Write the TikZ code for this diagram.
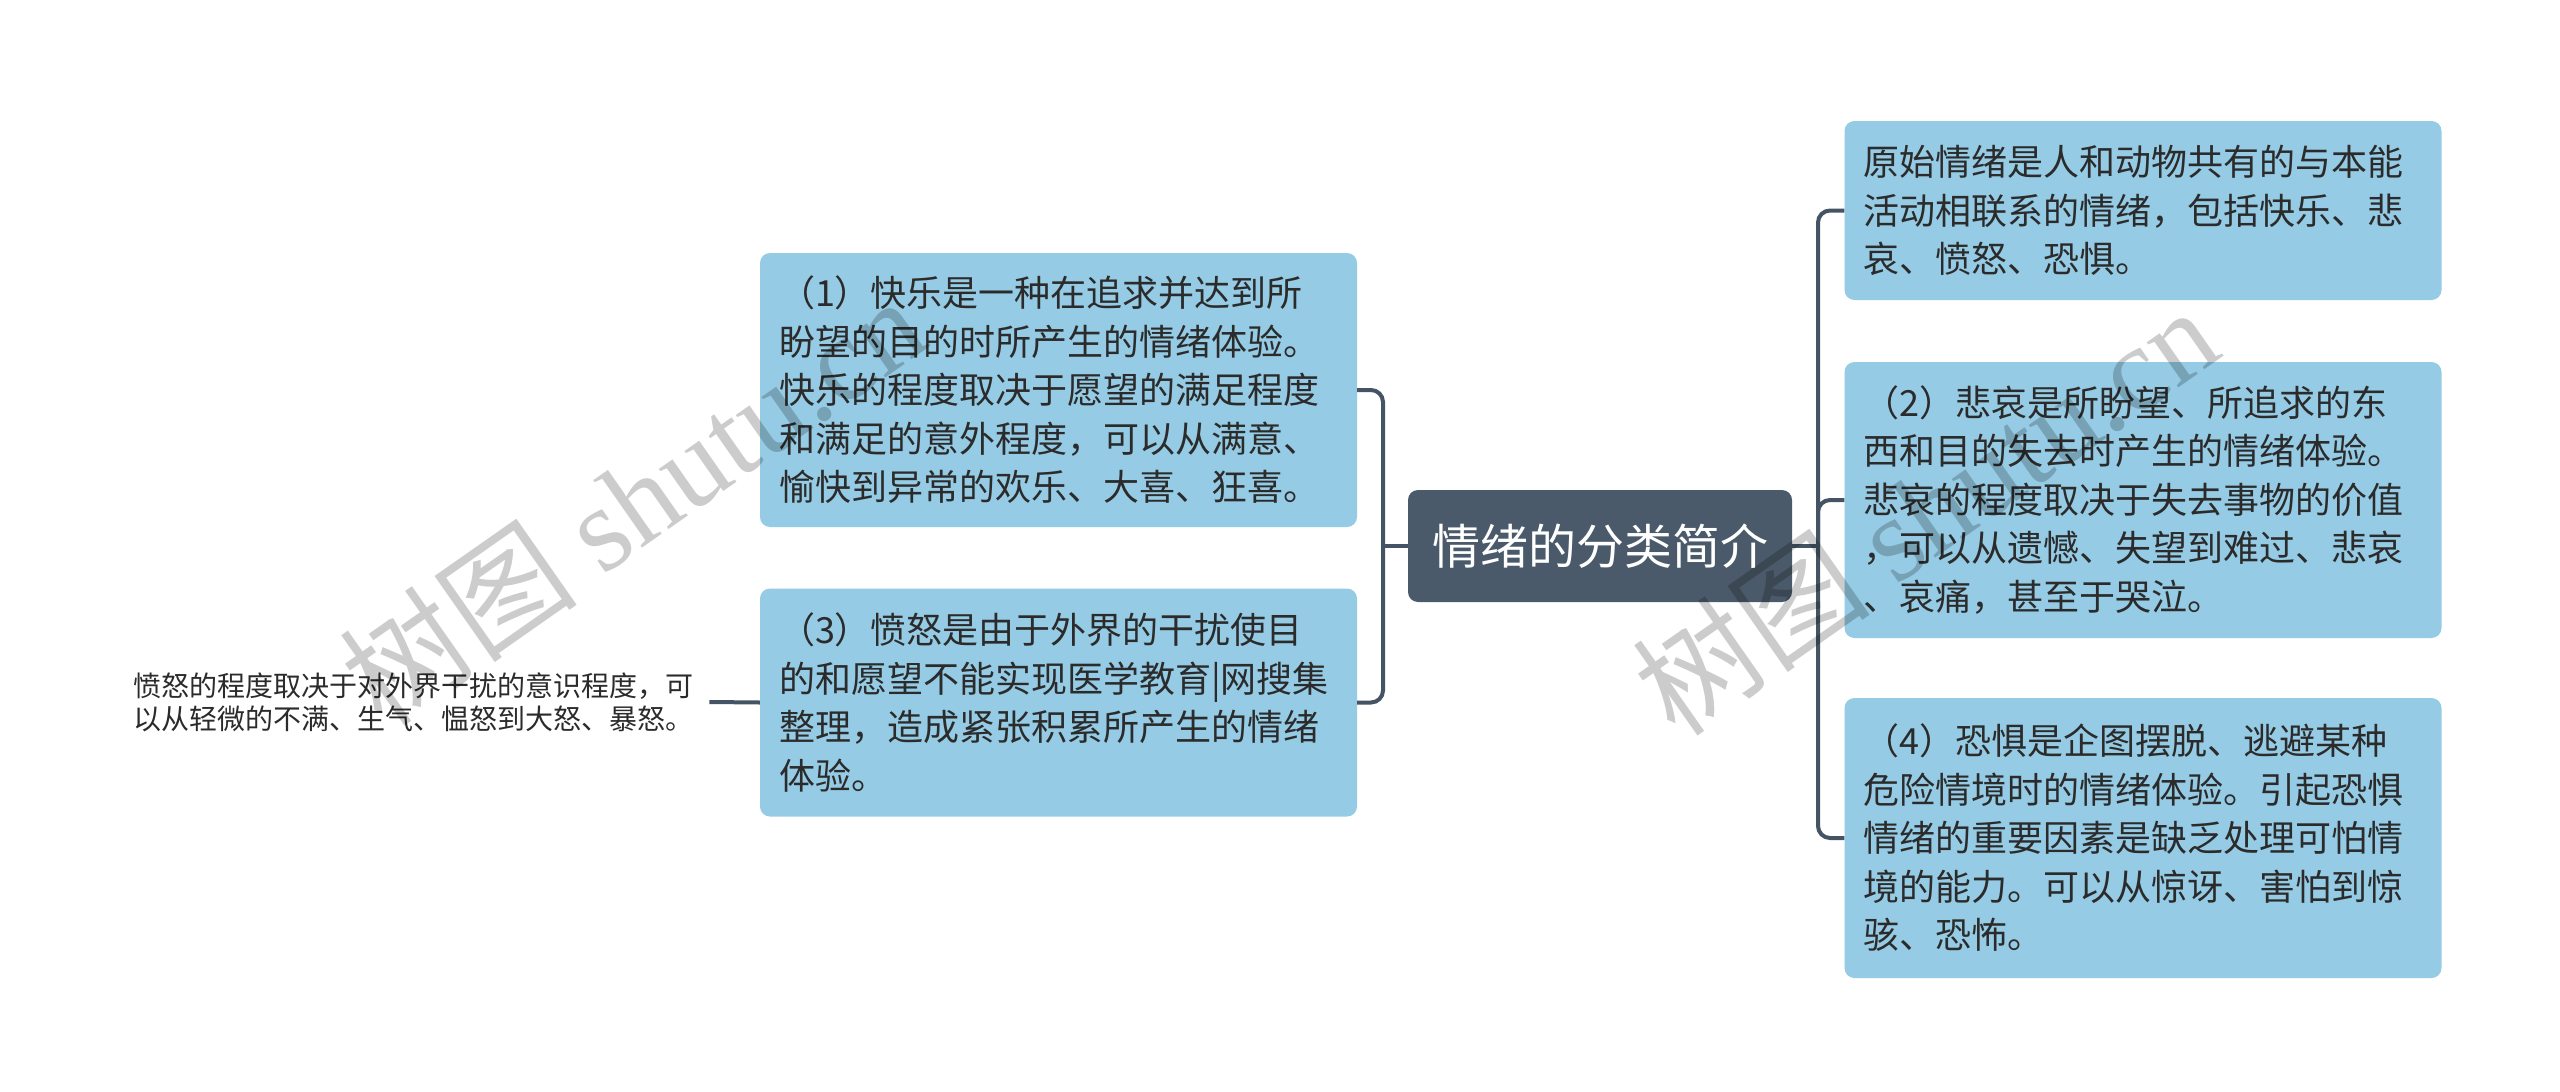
\documentclass[tikz,border=0pt]{standalone}
\usepackage{fontspec}
\setmainfont{Noto Sans CJK SC}
\newfontfamily\wmserif{Liberation Serif}
\definecolor{boxc}{RGB}{149,203,228}
\definecolor{rootc}{RGB}{74,90,106}
\definecolor{linec}{RGB}{68,84,100}
\definecolor{txtc}{RGB}{43,43,43}
\begin{document}
\begin{tikzpicture}[x=1pt,y=-1pt,
  leaf/.style={fill=boxc, rounded corners=10pt, text=txtc,
    font=\fontsize{36}{48.5}\selectfont, align=left, text width=559pt,
    inner xsep=19pt, inner ysep=0pt, minimum height=#1},
  rootbox/.style={fill=rootc, rounded corners=10pt, text=white,
    font=\fontsize{48}{56}\selectfont, minimum width=384pt, minimum height=112pt, inner sep=0pt},
  plain/.style={text=txtc, font=\fontsize{28}{33}\selectfont, align=left, inner xsep=16pt, inner ysep=0pt},
  conn/.style={draw=linec, line width=4pt, rounded corners=12pt},
  wmark/.style={text=black, text opacity=0.2, rotate=35, inner sep=0pt}]
\fill[white] (0,0) rectangle (2560,1092);
\useasboundingbox (0,0) rectangle (2560,1092);

\node[rootbox] (root) at (1600,546) {情绪的分类简介};

\node[leaf=274pt] (b1) at (1058.5,390) {（1）快乐是一种在追求并达到所\\盼望的目的时所产生的情绪体验。\\快乐的程度取决于愿望的满足程度\\和满足的意外程度，可以从满意、\\愉快到异常的欢乐、大喜、狂喜。};
\node[leaf=228pt] (b3) at (1058.5,702.5) {（3）愤怒是由于外界的干扰使目\\的和愿望不能实现医学教育|网搜集\\整理，造成紧张积累所产生的情绪\\体验。};
\node[plain, anchor=west] (lt) at (117,702) {愤怒的程度取决于对外界干扰的意识程度，可\\以从轻微的不满、生气、愠怒到大怒、暴怒。};

\node[leaf=179pt] (r1) at (2143,210.5) {原始情绪是人和动物共有的与本能\\活动相联系的情绪，包括快乐、悲\\哀、愤怒、恐惧。};
\node[leaf=276pt] (r2) at (2143,500) {（2）悲哀是所盼望、所追求的东\\西和目的失去时产生的情绪体验。\\悲哀的程度取决于失去事物的价值\\，可以从遗憾、失望到难过、悲哀\\、哀痛，甚至于哭泣。};
\node[leaf=280pt] (r3) at (2143,838) {（4）恐惧是企图摆脱、逃避某种\\危险情境时的情绪体验。引起恐惧\\情绪的重要因素是缺乏处理可怕情\\境的能力。可以从惊讶、害怕到惊\\骇、恐怖。};

\coordinate (lj) at (1383,546);
\coordinate (rj) at (1818,546);
\draw[conn] (root.west) -- (lj);
\draw[conn] (lj) |- (b1.east);
\draw[conn] (lj) |- (b3.east);
\draw[conn] (root.east) -- (rj);
\draw[conn] (rj) |- (r1.west);
\draw[conn] (rj) |- (r2.west);
\draw[conn] (rj) |- (r3.west);
\draw[conn] (b3.west) -- (lt.east);

\node[wmark, font=\fontsize{120}{130}\selectfont] (wm1) at (632,500) {树图 {\wmserif shutu.cn}};
\node[wmark, font=\fontsize{120}{130}\selectfont] (wm2) at (1925,510) {树图 {\wmserif shutu.cn}};
\end{tikzpicture}
\end{document}
